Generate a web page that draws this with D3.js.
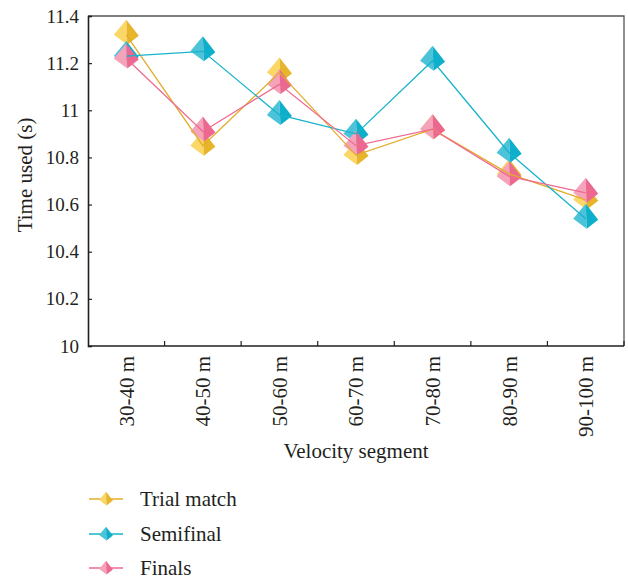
<!DOCTYPE html>
<html>
<head>
<meta charset="utf-8">
<script src="https://cdn.jsdelivr.net/npm/d3@7"></script>
<style>
  body { margin: 0; background: #fff; }
  text { font-family: "Liberation Serif", "DejaVu Serif", serif; fill: #231f20; }
</style>
</head>
<body>
<div id="chart"></div>
<script>
const width = 628;
const height = 580;

const segments = ["30-40 m", "40-50 m", "50-60 m", "60-70 m", "70-80 m", "80-90 m", "90-100 m"];
const trialMatch = [11.32, 10.85, 11.16, 10.81, 10.92, 10.73, 10.62];
const semifinal = [11.23, 11.25, 10.98, 10.90, 11.21, 10.82, 10.54];
const finals = [11.22, 10.91, 11.11, 10.85, 10.92, 10.72, 10.65];
const seriesNames = ["Trial match", "Semifinal", "Finals"];
const yTicks = [10, 10.2, 10.4, 10.6, 10.8, 11, 11.2, 11.4];

const series = [
  { name: seriesNames[0], values: trialMatch, line: "#e3ac2a", light: "#fbd767", dark: "#e6b52c" },
  { name: seriesNames[1], values: semifinal, line: "#17b3cc", light: "#4cc3d8", dark: "#0eafca" },
  { name: seriesNames[2], values: finals, line: "#ef6a90", light: "#f4a3bb", dark: "#ec6890" }
];

const margin = { top: 16, right: 4, bottom: 234, left: 88 };
const innerW = width - margin.left - margin.right;
const innerH = height - margin.top - margin.bottom;

const svg = d3.select("#chart")
  .append("svg")
  .attr("width", width)
  .attr("height", height);

const g = svg.append("g")
  .attr("transform", `translate(${margin.left},${margin.top})`);

const x = d3.scaleBand()
  .domain(segments)
  .range([0, innerW]);

const y = d3.scaleLinear()
  .domain([10, 11.4])
  .range([innerH, 0]);

// frame (top + right)
g.append("path")
  .attr("d", `M0,0H${innerW}V${innerH}`)
  .attr("fill", "none")
  .attr("stroke", "#555")
  .attr("stroke-width", 1.3);

// y axis
const yAxis = g.append("g")
  .call(d3.axisLeft(y)
    .tickValues(yTicks)
    .tickSize(-4)
    .tickPadding(9)
    .tickFormat(d => String(+d.toFixed(1))));
yAxis.select(".domain").attr("stroke", "#231f20").attr("stroke-width", 1.6);
yAxis.selectAll(".tick line").attr("stroke", "#231f20").attr("stroke-width", 1.2);
yAxis.selectAll("text")
  .style("font-family", '"Liberation Serif", serif')
  .style("font-size", "19px")
  .attr("fill", "#231f20");

// x axis
const xAxis = g.append("g")
  .attr("transform", `translate(0,${innerH})`);
xAxis.append("line")
  .attr("x1", 0).attr("x2", innerW)
  .attr("stroke", "#231f20").attr("stroke-width", 1.6);
xAxis.selectAll(".xtick")
  .data(segments)
  .enter().append("line")
  .attr("class", "xtick")
  .attr("x1", d => x(d) + x.bandwidth())
  .attr("x2", d => x(d) + x.bandwidth())
  .attr("y1", 0).attr("y2", -5)
  .attr("stroke", "#231f20").attr("stroke-width", 1.2);
xAxis.selectAll(".xlabel")
  .data(segments)
  .enter().append("text")
  .attr("class", "xlabel")
  .attr("transform", d => `translate(${x(d) + x.bandwidth() / 2},10) rotate(-90)`)
  .attr("text-anchor", "end")
  .attr("dy", "0.35em")
  .style("font-size", "21px")
  .text(d => d);

// axis titles
svg.append("text")
  .attr("transform", `translate(32,${margin.top + innerH / 2 - 6}) rotate(-90)`)
  .attr("text-anchor", "middle")
  .style("font-size", "21px")
  .text("Time used (s)");

svg.append("text")
  .attr("x", margin.left + innerW / 2)
  .attr("y", 458)
  .attr("text-anchor", "middle")
  .style("font-size", "21px")
  .text("Velocity segment");

// pyramid marker
function pyramid(sel, s, k) {
  const ax = 0, ay = -15 * k;
  const lx = -12.5 * k, ly = 0;
  const rx = 12.5 * k, ry = 1 * k;
  const fx = 1 * k, fy = 10 * k;
  sel.append("path")
    .attr("d", `M${ax},${ay}L${lx},${ly}L${fx},${fy}Z`)
    .attr("fill", s.light);
  sel.append("path")
    .attr("d", `M${ax},${ay}L${fx},${fy}L${rx},${ry}Z`)
    .attr("fill", s.dark);
}

const line = d3.line()
  .x((d, i) => x(segments[i]) + x.bandwidth() / 2)
  .y(d => y(d));

// markers first, lines on top
series.forEach(s => {
  g.append("g")
    .selectAll("g")
    .data(s.values)
    .enter().append("g")
    .attr("transform", (d, i) => `translate(${x(segments[i]) + x.bandwidth() / 2},${y(d)})`)
    .each(function() { pyramid(d3.select(this), s, 1); });
});

series.forEach(s => {
  g.append("path")
    .datum(s.values)
    .attr("fill", "none")
    .attr("stroke", s.line)
    .attr("stroke-width", 1.3)
    .attr("d", line);
});

// legend
const legend = svg.append("g");
const legendY = [499, 534, 568];
series.forEach((s, i) => {
  const row = legend.append("g").attr("transform", `translate(0,${legendY[i]})`);
  row.append("line")
    .attr("x1", 89).attr("x2", 123)
    .attr("stroke", s.line).attr("stroke-width", 1.3);
  const m = row.append("g").attr("transform", "translate(106,1)");
  pyramid(m, s, 0.55);
  row.append("text")
    .attr("x", 140)
    .attr("y", 0)
    .attr("dy", "0.33em")
    .style("font-size", "21px")
    .text(s.name);
});
</script>
</body>
</html>
